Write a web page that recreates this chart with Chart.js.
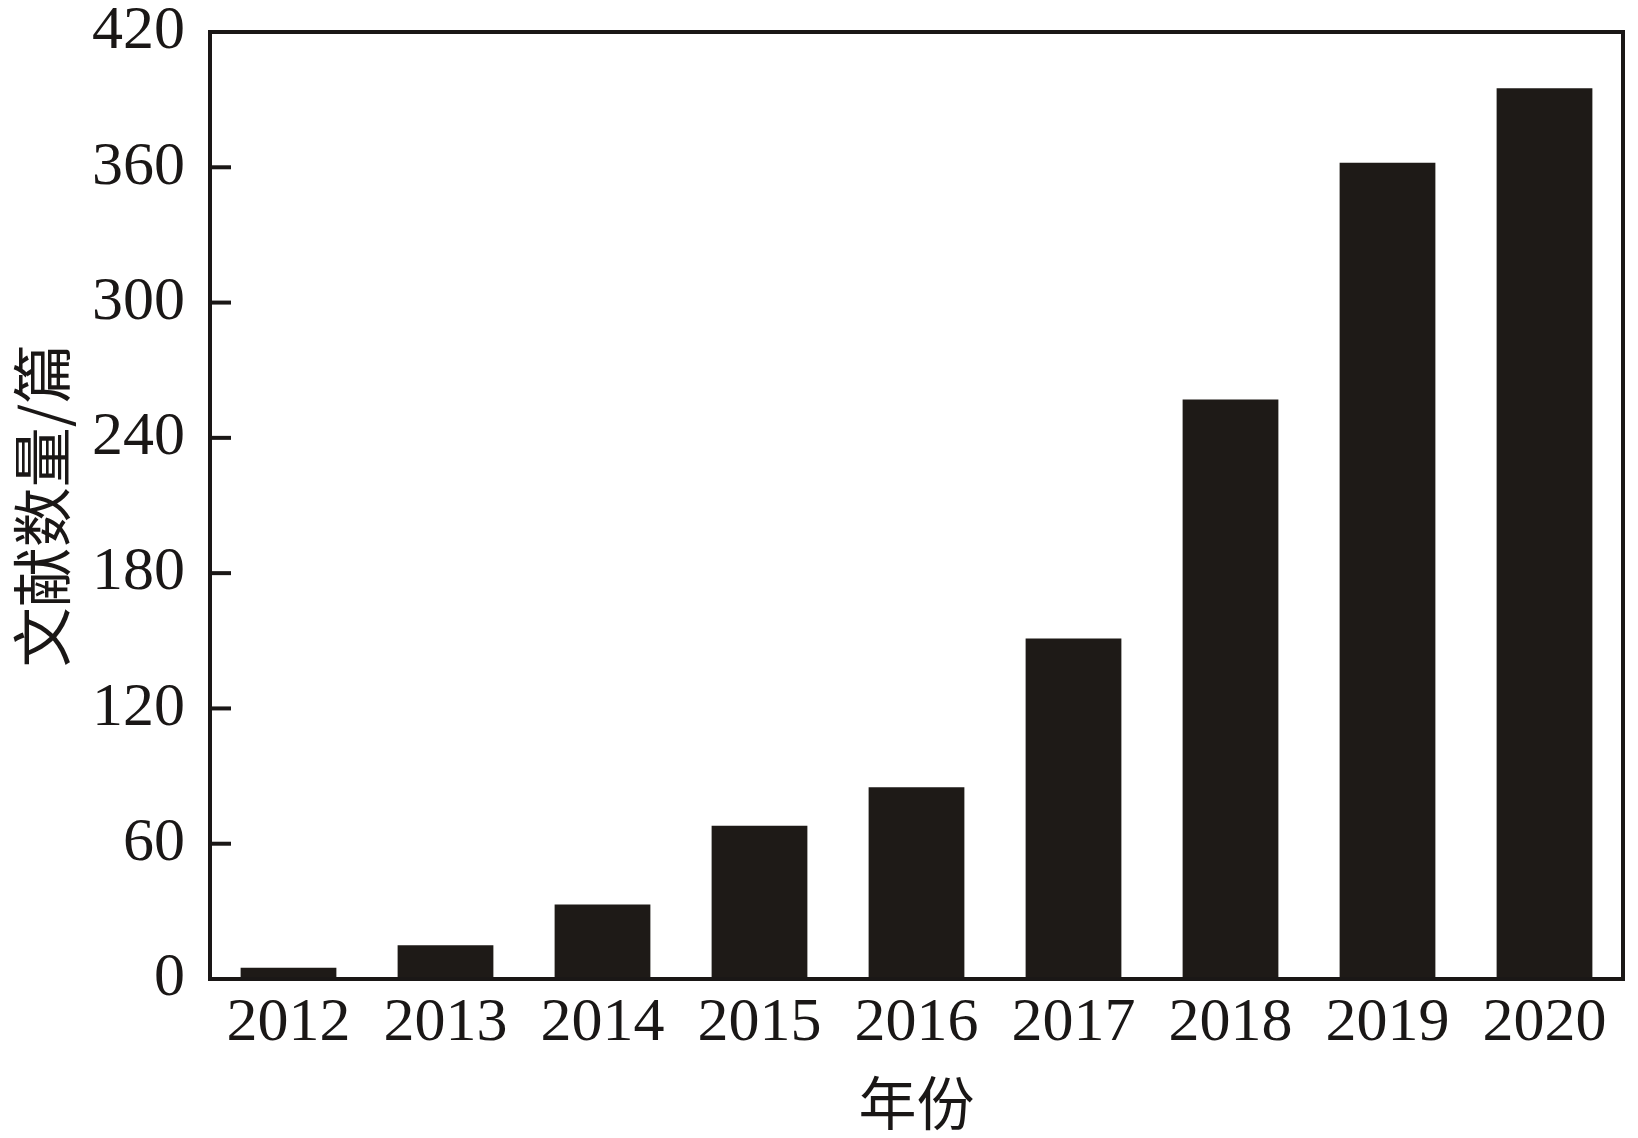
<!DOCTYPE html>
<html>
<head>
<meta charset="utf-8">
<script src="https://cdn.jsdelivr.net/npm/chart.js@4.4.1/dist/chart.umd.min.js"></script>
<style>
  html, body { margin: 0; padding: 0; background: #ffffff; }
  #wrap { width: 1638px; height: 1138px; }
</style>
</head>
<body>
<div id="wrap"><canvas id="c" width="1638" height="1138"></canvas></div>
<script>
const years = ['2012', '2013', '2014', '2015', '2016', '2017', '2018', '2019', '2020'];
const paperCounts = [5, 15, 33, 68, 85, 151, 257, 362, 395];
const yTicks = [0, 60, 120, 180, 240, 300, 360, 420];
const xTitle = '年份';
const yTitle = '文献数量/篇';

const frameColor = '#1a1716';
const barColor = '#1e1a17';

const framePlugin = {
  id: 'frame',
  afterDraw(chart) {
    const { ctx, chartArea, scales } = chart;
    ctx.save();
    ctx.strokeStyle = frameColor;
    ctx.lineWidth = 4;
    ctx.strokeRect(chartArea.left, chartArea.top, chartArea.right - chartArea.left, chartArea.bottom - chartArea.top);
    const ys = scales.y;
    ys.ticks.forEach((t) => {
      if (t.value === ys.min || t.value === ys.max) return;
      const y = ys.getPixelForValue(t.value);
      ctx.beginPath();
      ctx.moveTo(chartArea.left, y);
      ctx.lineTo(chartArea.left + 21, y);
      ctx.stroke();
    });
    ctx.restore();
  }
};

new Chart(document.getElementById('c'), {
  type: 'bar',
  data: {
    labels: years,
    datasets: [{
      data: paperCounts,
      backgroundColor: barColor,
      borderWidth: 0,
      categoryPercentage: 1.0,
      barPercentage: 0.61
    }]
  },
  options: {
    responsive: false,
    animation: false,
    devicePixelRatio: 1,
    layout: { padding: { left: 0, right: 15, top: 32, bottom: 0 } },
    plugins: { legend: { display: false }, tooltip: { enabled: false } },
    scales: {
      x: {
        grid: { display: false, drawTicks: false },
        border: { display: false },
        ticks: {
          color: '#1a1716',
          font: { family: '"Liberation Serif", "Times New Roman", serif', size: 62 },
          padding: 8,
          maxRotation: 0
        },
        title: {
          display: true,
          text: xTitle,
          color: '#1a1716',
          font: { family: '"Noto Sans CJK SC", sans-serif', size: 58 },
          padding: { top: 0, bottom: 0 }
        },
        afterFit(scale) { scale.height = 159; scale.paddingLeft = 0; scale.paddingRight = 0; }
      },
      y: {
        min: 0,
        max: 420,
        afterBuildTicks(scale) { scale.ticks = yTicks.map(v => ({ value: v })); },
        grid: { display: false, drawTicks: false },
        border: { display: false },
        ticks: {
          color: '#1a1716',
          font: { family: '"Liberation Serif", "Times New Roman", serif', size: 62 },
          padding: 25
        },
        title: {
          display: true,
          text: yTitle,
          color: '#1a1716',
          font: { family: '"Noto Sans CJK SC", sans-serif', size: 60 },
          padding: { top: 6, bottom: 0 }
        },
        afterFit(scale) { scale.width = 210; scale.paddingTop = 0; scale.paddingBottom = 0; }
      }
    }
  },
  plugins: [framePlugin]
});
</script>
</body>
</html>
